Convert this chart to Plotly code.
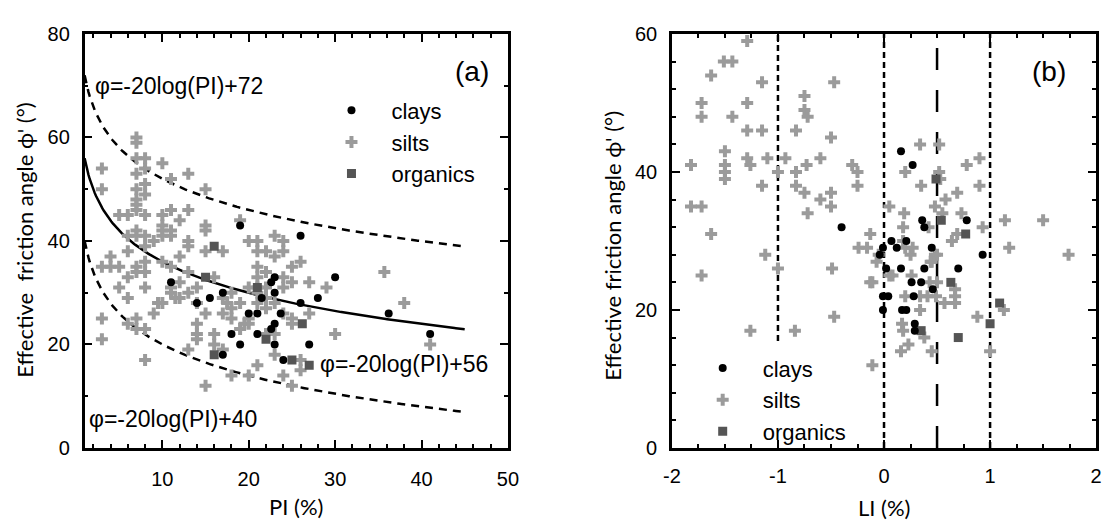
import numpy as np
import plotly.graph_objects as go

# ---------------- Panel (a): friction angle vs plasticity index ----------------
clay_pi = [11, 14, 15.5, 17, 17, 18, 19, 19, 20, 21, 21, 21.5, 22.6, 23, 23, 22.6, 23, 23,
           23.7, 24, 26, 26, 27, 28, 30, 36.2, 41]
clay_phi_a = [32, 28, 29, 30, 18, 22, 43, 20, 26, 22, 26, 29, 32, 33, 30, 23, 24, 20,
              26, 17, 41, 28, 20, 29, 33, 26, 22]

silt_pi = [3, 3, 7, 7, 7, 8, 8, 7, 10, 11, 13, 8, 15, 7, 8, 7, 7, 7, 5, 6, 8, 10, 11, 13,
           12, 15, 15, 10, 10, 11, 10, 11, 7, 6, 7, 8, 9, 19, 13, 13, 8, 6, 15, 17, 20, 21,
           21, 22, 23, 24, 24, 23, 4, 3, 4, 5, 7, 8, 8, 7, 10, 11, 12, 13, 6, 5, 6, 8, 9, 10,
           9.5, 3, 3, 6, 7, 7, 8, 8, 11, 11, 11.5, 12, 13, 14, 16, 15, 14, 14, 14, 16, 16, 17,
           13, 15, 17, 17.5, 18, 18, 17, 18, 19, 19.5, 20, 20, 21, 21, 21, 21, 22, 22, 21, 22,
           23, 24, 24, 25, 25, 26, 27, 27, 24, 25, 25, 23, 24, 25, 26, 26, 29, 30, 35.7, 38,
           41, 20, 22, 23, 20, 21, 22, 18, 19, 12, 14]
silt_phi_a = [54, 50, 60, 59, 56, 56, 54, 53, 55, 52, 53, 51, 50, 50, 49, 48, 47, 46, 45, 45,
              45, 45, 46, 46, 44, 43, 42, 43, 42, 42, 41, 41, 42, 41, 41, 41, 40, 44, 40, 39,
              39, 38, 38, 38, 40, 40, 38, 38, 41, 40, 38, 37, 37, 35, 35, 35, 35, 36, 34, 34,
              36, 35, 37, 34, 33, 31, 29, 31, 26, 28, 28, 25, 21, 24, 25, 23, 23, 17, 31, 30,
              29, 29, 30, 31, 33, 26, 24, 22, 21, 22, 20, 19, 19, 12, 29, 28, 27, 25, 26, 14,
              23, 24, 25, 14, 16, 35, 33, 31, 31, 34, 28, 27, 28, 33, 31, 32, 35, 36, 32, 26,
              26, 25, 24, 18, 14, 12, 17, 15, 31, 22, 34, 28, 20, 31, 22, 22, 24, 30, 29, 30,
              28, 32, 28]

org_pi = [15, 16, 21, 16, 22, 26.2, 25, 27]
org_phi_a = [33, 39, 31, 18, 21, 24, 17, 16]

# Correlation lines phi = -20 log(PI) + c
curve_consts = [72, 56, 40]
curve_dash = ["8px,6px", "solid", "8px,6px"]
curve_pi = np.linspace(1, 45, 300)

# ---------------- Panel (b): friction angle vs liquidity index ----------------
clay_li = [0.16, 0.27, -0.4, 0.36, 0.38, 0.78, 0.07, 0.21, 0.12, -0.01, -0.04, 0.45, 0.93,
           0.02, 0.16, 0.38, 0.70, 0.26, 0.35, 0.46, -0.01, 0.04, 0.28, -0.01, 0.17, 0.21,
           0.29, 0.29]
clay_phi_b = [43, 41, 32, 33, 32, 33, 30, 30, 29, 29, 28, 29, 28, 26, 26, 26, 26, 24, 24, 23,
              22, 22, 22, 20, 20, 20, 18, 17]

silt_li = [-1.29, -1.51, -1.43, -1.63, -1.15, -0.47, -0.75, -1.72, -1.29, -0.75, -1.72, -1.43,
           -0.72, -1.29, -1.15, -0.83, -0.5, -1.5, -1.5, -1.5, -1.5, -1.82, -1.29, -1.26, -1.1,
           -0.93, -1.0, -0.83, -0.73, -0.6, -0.3, -0.25, -0.25, -1.15, -0.83, -0.75, -0.5,
           -0.6, -0.5, -0.72, -1.82, -1.72, -1.63, -1.12, -1.0, -0.49, -1.72, -0.47, -1.26,
           -0.84, -0.13, -0.24, -0.16, 0.05, -0.05, -0.07, -0.11, -0.11, 0.34, 0.52, 0.2, 0.52,
           0.53, 0.35, 0.9, 0.9, 0.78, 0.69, 0.58, 0.48, 0.55, 0.19, 0.73, 0.18, 0.42, 0.93,
           0.69, 0.64, 1.18, 1.14, 1.50, 0.18, 0.2, 0.25, 0.27, 0.45, 0.48, 0.5, 0.44, 0.05,
           0.08, -0.13, 0.26, 0.43, 0.5, 0.2, 0.34, 0.41, 0.49, 0.67, 0.67, 0.67, 0.57, 0.34,
           0.88, 0.17, 0.18, 0.38, 1.13, 0.23, 0.16, 0.45, 1.0, 1.74]
silt_phi_b = [59, 56, 56, 54, 53, 53, 51, 50, 50, 49, 48, 48, 48, 46, 46, 46, 45, 43, 41, 40,
              39, 41, 42, 41, 42, 42, 40, 40, 41, 42, 41, 40, 38, 38, 38, 37, 37, 36, 35, 34,
              35, 35, 31, 28, 26, 26, 25, 19, 17, 17, 31, 29, 29, 35, 28, 27, 24, 12, 44, 44,
              40, 40, 39, 38, 38, 42, 41, 37, 36, 35, 34, 34, 34, 32, 32, 32, 31, 30, 29, 33,
              33, 30, 29, 28, 29, 27, 28, 28, 27, 25, 25, 24, 25, 24, 24, 22, 22, 22, 22, 23,
              22, 21, 21, 20, 19, 18, 17, 16, 20, 15, 14, 14, 14, 28]

org_li = [0.49, 0.54, 0.77, 0.63, 1.09, 1.0, 0.35, 0.70]
org_phi_b = [39, 33, 31, 24, 21, 18, 17, 16]

# Reference lines on the LI axis
li_lines = [-1, 0, 0.5, 1]
li_line_start = [15.5, 0, 0, 0]
li_line_dash = ["6px,4px", "6px,4px", "22px,20px", "6px,4px"]

# ---------------- styles ----------------
BLACK = "#000000"
SILT = "#9b9b9b"
ORG = "#555555"
TICK_FONT = dict(family="Liberation Sans, Arial, sans-serif", size=20, color="black")
LABEL_FONT = dict(family="Lato, Carlito, sans-serif", size=22, color="black")
TEXT_FONT = dict(family="Liberation Sans, Arial, sans-serif", size=22, color="black")
NOTE_FONT = dict(family="Liberation Sans, Arial, sans-serif", size=23, color="black")

fig = go.Figure()

for c, d in zip(curve_consts, curve_dash):
    fig.add_trace(go.Scatter(x=curve_pi, y=-20 * np.log10(curve_pi) + c, mode="lines",
                             line=dict(color="black", width=2.5, dash=d),
                             showlegend=False, hoverinfo="skip", xaxis="x", yaxis="y"))

def add_groups(xc, yc, xs, ys, xo, yo, xa, ya, leg):
    fig.add_trace(go.Scatter(x=xs, y=ys, mode="markers", name="silts",
                             marker=dict(symbol="cross", size=10, color=SILT),
                             xaxis=xa, yaxis=ya, legend=leg, legendgroup=leg + "s", legendrank=2))
    fig.add_trace(go.Scatter(x=xo, y=yo, mode="markers", name="organics",
                             marker=dict(symbol="square", size=9, color=ORG),
                             xaxis=xa, yaxis=ya, legend=leg, legendgroup=leg + "o", legendrank=3))
    fig.add_trace(go.Scatter(x=xc, y=yc, mode="markers", name="clays",
                             marker=dict(symbol="circle", size=8, color=BLACK),
                             xaxis=xa, yaxis=ya, legend=leg, legendgroup=leg + "c", legendrank=1))

add_groups(clay_pi, clay_phi_a, silt_pi, silt_phi_a, org_pi, org_phi_a, "x", "y", "legend")
add_groups(clay_li, clay_phi_b, silt_li, silt_phi_b, org_li, org_phi_b, "x2", "y2", "legend2")

shapes = []
for xv, y0, d in zip(li_lines, li_line_start, li_line_dash):
    shapes.append(dict(type="line", xref="x2", yref="y2", x0=xv, x1=xv, y0=y0, y1=60,
                       line=dict(color="black", width=2.5, dash=d), layer="below"))

def axis(domain, rng, tickvals, ticktext, minor_dtick, anchor, standoff):
    return dict(domain=domain, range=rng, anchor=anchor, tickmode="array",
                tickvals=tickvals, ticktext=ticktext, ticks="inside", ticklen=8,
                tickwidth=2, tickcolor="black", showline=True, linewidth=2.5,
                linecolor="black", mirror="ticks", showgrid=False, zeroline=False,
                tickfont=TICK_FONT, ticklabelstandoff=standoff,
                minor=dict(dtick=minor_dtick, tick0=0, ticks="inside", ticklen=4,
                           tickwidth=1.5, tickcolor="black", showgrid=False))

pi_ticks = [10, 20, 30, 40, 50]
phi_ticks_a = [0, 20, 40, 60, 80]
li_ticks = [-2, -1, 0, 1, 2]
phi_ticks_b = [0, 20, 40, 60]

xa_dom = [77 / 1115, 508 / 1115]
xb_dom = [675 / 1115, 1107 / 1115]
y_dom = [70 / 526, 502 / 526]

legend_common = dict(font=TEXT_FONT, bgcolor="rgba(0,0,0,0)", itemwidth=70,
                     tracegroupgap=2, traceorder="normal", xanchor="left", yanchor="top")

def label(text, x, y, angle=0):
    return dict(text=text, x=x / 1115, y=1 - y / 526, xref="paper", yref="paper",
                xanchor="center", yanchor="middle", textangle=angle, showarrow=False,
                font=LABEL_FONT)

def note(text, x, y, xref, yref):
    return dict(text=text, x=x, y=y, xref=xref, yref=yref, xanchor="left",
                yanchor="middle", showarrow=False, font=NOTE_FONT)

fig.update_layout(
    width=1115, height=526, margin=dict(l=0, r=0, t=0, b=0),
    paper_bgcolor="white", plot_bgcolor="white",
    xaxis=axis(xa_dom, [1, 50], pi_ticks, [str(v) for v in pi_ticks], 2, "y", 11),
    yaxis=axis(y_dom, [0, 80], phi_ticks_a, [str(v) for v in phi_ticks_a], 10, "x", 8),
    xaxis2=axis(xb_dom, [-2, 2], li_ticks, [str(v) for v in li_ticks], 0.25, "y2", 8),
    yaxis2=axis(y_dom, [0, 60], phi_ticks_b, [str(v) for v in phi_ticks_b], 4, "x2", 8),
    legend=dict(x=308 / 1115, y=1 - 82 / 526, **legend_common),
    legend2=dict(x=686 / 1115, y=1 - 351 / 526, **legend_common),
    shapes=shapes,
    annotations=[
        note("φ=-20log(PI)+72", 2.0, 70.0, "x", "y"),
        note("φ=-20log(PI)+56", 28.0, 16.3, "x", "y"),
        note("φ=-20log(PI)+40", 1.3, 5.6, "x", "y"),
        dict(text="(a)", x=45.8, y=72.7, xref="x", yref="y", showarrow=False,
             font=dict(family=TEXT_FONT["family"], size=28, color="black")),
        dict(text="(b)", x=1.56, y=54.5, xref="x2", yref="y2", showarrow=False,
             font=dict(family=TEXT_FONT["family"], size=28, color="black")),
        label("Effective\u00a0 friction angle ϕ' (°)", 15, 239, -90),
        label("Effective friction angle ϕ' (°)", 615, 245, -90),
        label("PI (%)", 292, 517),
        label("LI (%)", 891, 518),
    ],
)

fig.write_html("out.html")
